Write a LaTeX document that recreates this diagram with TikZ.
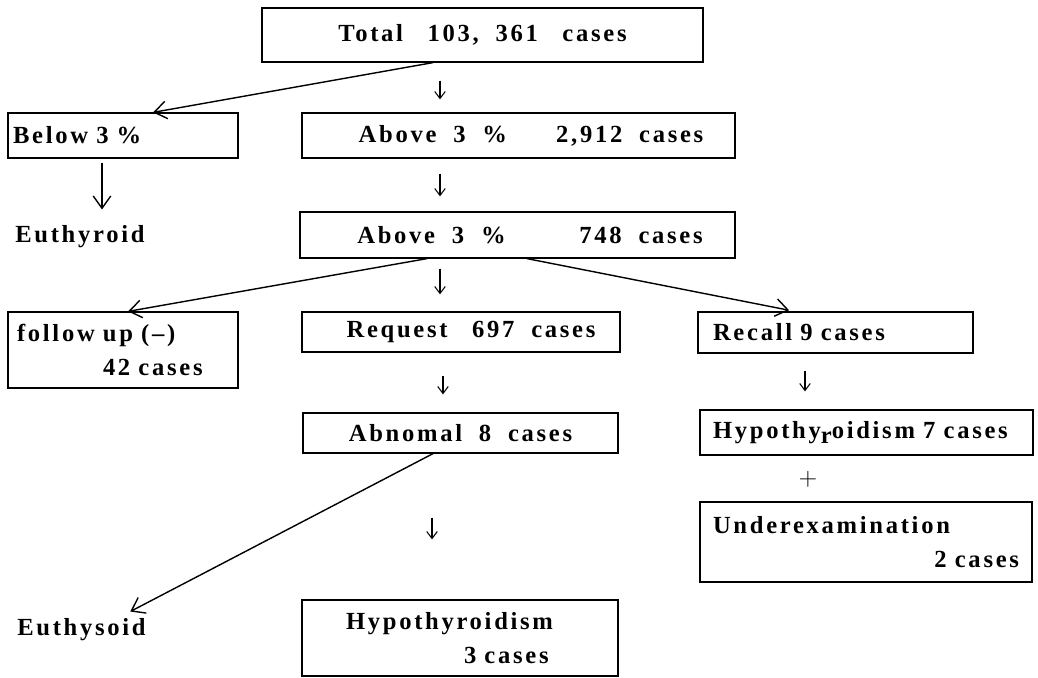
\documentclass[tikz,border=0pt]{standalone}
\usepackage{fontspec}
\usepackage{tikz}
\usetikzlibrary{arrows.meta,positioning}
\newfontfamily\typefont[LetterSpace=11,WordSpace=1.9]{Liberation Serif}
\newcommand\gap{\hspace{1em}}
\newcommand\lowr{\raisebox{-3pt}{r}}

\tikzset{
  flowbox/.style={draw, line width=0.7pt, inner sep=0pt, font=\typefont\bfseries\fontsize{14}{19}\selectfont},
  plainlabel/.style={inner sep=0pt, font=\typefont\bfseries\fontsize{14}{19}\selectfont},
  conn/.style={line width=0.8pt, -{Straight Barb[length=7pt,width=10pt]}},
  stub/.style={line width=0.6pt, -{Straight Barb[length=4pt,width=6pt]}}
}

\begin{document}
\begin{tikzpicture}[x=0.02cm,y=-0.02cm]
  \useasboundingbox (0,0) rectangle (1038,677);

  % boxes
  \node[flowbox, minimum width=8.82cm, minimum height=1.08cm] (total) at (482.5,35) {Total\gap 103, 361\gap cases};
  \node[flowbox, minimum height=0.9cm, inner xsep=0.1cm, text width=4.4cm, align=left] (below) at (123,135.5) {Below 3 \%};
  \node[flowbox, minimum width=8.66cm, minimum height=0.9cm] (above1) at (518.5,135.5) {\hspace{0.5cm}Above 3 \%\gap\gap 2,912 cases};
  \node[flowbox, minimum width=8.7cm, minimum height=0.92cm] (above2) at (517.5,235) {\hspace{0.5cm}Above 3 \%\gap\gap\gap 748 cases};
  \node[flowbox, minimum height=1.52cm, inner xsep=0.18cm, text width=4.24cm, align=left] (follow) at (123,350) {follow up (–)\\\hspace*{1.72cm}42 cases};
  \node[flowbox, minimum width=6.36cm, minimum height=0.8cm] (request) at (461,332) {\hspace{0.4cm}Request\gap 697 cases};
  \node[flowbox, minimum height=0.82cm, inner xsep=0.3cm, text width=4.9cm, align=left] (recall) at (835.5,332.5) {Recall 9 cases};
  \node[flowbox, minimum width=6.3cm, minimum height=0.8cm] (abnomal) at (460.5,433) {Abnomal 8 cases};
  \node[flowbox, minimum height=0.9cm, inner xsep=0.26cm, text width=6.14cm, align=left] (hypoA) at (866.5,432.5) {Hypothy\lowr oidism 7 cases};
  \node[flowbox, minimum height=1.6cm, inner xsep=0.26cm, text width=6.12cm, align=left] (under) at (866,542) {Underexamination\\\hfill 2 cases};
  \node[flowbox, minimum height=1.52cm, inner xsep=0.88cm, text width=4.56cm, align=left] (hypoB) at (460,638) {Hypothyroidism\\\hspace*{2.36cm}3 cases};

  % free labels
  \node[plainlabel, anchor=west] (euthyroid) at (15,237) {Euthyroid};
  \node[plainlabel, anchor=west] (euthysoid) at (17,630) {Euthysoid};
  \node[inner sep=0pt, font=\fontsize{14}{16}\selectfont] (plus) at (808,479) {+};

  % columns for connectors
  \coordinate (xa) at (433,0);
  \coordinate (xb) at (153,0);
  \coordinate (xc) at (440,0);
  \coordinate (xd) at (102,0);
  \coordinate (xe) at (427,0);
  \coordinate (xf) at (128,0);
  \coordinate (xg) at (527,0);
  \coordinate (xh) at (795,0);
  \coordinate (xi) at (443,0);
  \coordinate (xj) at (805,0);
  \coordinate (xk) at (432,0);
  \coordinate (xl) at (117,0);

  % connectors
  \draw[conn] (total.south -| xa) -- (below.north -| xb);
  \draw[stub, shorten <=0.36cm, shorten >=0.26cm] (total.south -| xc) -- (above1.north -| xc);
  \draw[conn, shorten <=0.08cm, shorten >=0.32cm] (below.south -| xd) -- (euthyroid.north -| xd);
  \draw[stub, shorten <=0.3cm, shorten >=0.3cm] (above1.south -| xc) -- (above2.north -| xc);
  \draw[conn] (above2.south -| xe) -- (follow.north -| xf);
  \draw[conn, shorten >=0.12cm] (above2.south -| xg) -- (recall.north -| xh);
  \draw[stub, shorten <=0.2cm, shorten >=0.34cm] (above2.south -| xc) -- (request.north -| xc);
  \draw[stub, shorten <=0.46cm, shorten >=0.36cm] (request.south -| xi) -- (abnomal.north -| xi);
  \draw[stub, shorten <=0.34cm, shorten >=0.36cm] (recall.south -| xj) -- (hypoA.north -| xj);
  \draw[conn, shorten >=0.3cm] (abnomal.south -| xa) -- (euthysoid.north -| xl);
  \draw[stub, shorten <=1.28cm, shorten >=1.2cm] (abnomal.south -| xk) -- (hypoB.north -| xk);
\end{tikzpicture}
\end{document}
